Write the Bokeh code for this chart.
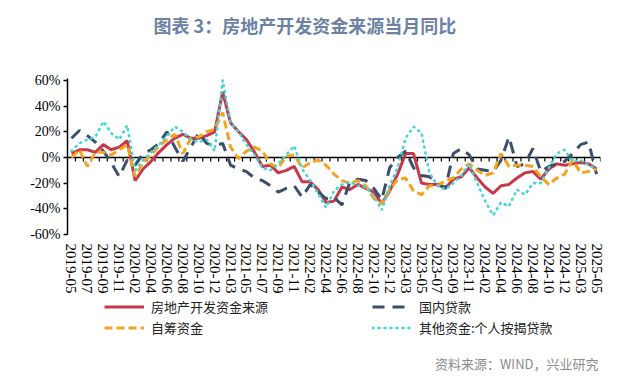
from bokeh.plotting import figure
from bokeh.layouts import column
from bokeh.models import (Range1d, FixedTicker, PrintfTickFormatter, Span, Label,
                          Legend, LegendItem)
from bokeh.embed import file_html
from bokeh.resources import INLINE

months = [
    "2019-05", "2019-06", "2019-07", "2019-08", "2019-09", "2019-10", "2019-11", "2019-12",
    "2020-02", "2020-03", "2020-04", "2020-05", "2020-06", "2020-07", "2020-08", "2020-09",
    "2020-10", "2020-11", "2020-12",
    "2021-02", "2021-03", "2021-04", "2021-05", "2021-06", "2021-07", "2021-08", "2021-09",
    "2021-10", "2021-11", "2021-12",
    "2022-02", "2022-03", "2022-04", "2022-05", "2022-06", "2022-07", "2022-08", "2022-09",
    "2022-10", "2022-11", "2022-12",
    "2023-02", "2023-03", "2023-04", "2023-05", "2023-06", "2023-07", "2023-08", "2023-09",
    "2023-10", "2023-11", "2023-12",
    "2024-02", "2024-03", "2024-04", "2024-05", "2024-06", "2024-07", "2024-08", "2024-09",
    "2024-10", "2024-11", "2024-12",
    "2025-02", "2025-03", "2025-04", "2025-05",
]

# 房地产开发资金来源 (%)
funds_total = [3, 6, 6, 4, 10, 6, 8, 13,
               -18, -9, -3, 4, 10, 15, 18, 15, 15, 17, 20,
               51, 27, 20, 14, 4, -7, -6, -12, -10, -7, -19,
               -19, -25, -35, -34, -23, -25, -21, -24, -27, -36, -26,
               -13, 3, 3, -20, -21, -21, -24, -17, -15, -8, -16,
               -23, -28, -22, -21, -16, -12, -11, -17, -9, -5, -6,
               -5, -4, -5, -9]
# 国内贷款 (%)
domestic_loans = [15, 21, 17, 12, 5, -4, -15, -2,
                  -6, 3, 6, 11, 20, 8, -3, 8, 19, 11, 9,
                  11, -6, -9, -11, -16, -18, -22, -27, -24, -22, -31,
                  -21, -27, -32, -31, -37, -19, -17, -18, -24, -33, -8,
                  0, 5, -8, -14, -15, -20, -24, 3, 7, 2, -9,
                  -10, -11, -2, 16, -7, -5, 7, -11, -7, -5, -3,
                  3, 10, 12, -13]
# 自筹资金 (%)
self_raised = [0, 6, -7, 4, 4, 2, 6, 10,
               -15, -4, 2, 9, 14, 18, 3, 15, 16, 20, 22,
               35, 8, -1, 5, 8, 5, -5, -8, 1, 2, -8,
               -4, -2, -6, -13, -18, -20, -18, -22, -32, -36, -25,
               -17, -16, -26, -29, -22, -22, -18, -16, -9, -5, -10,
               -14, -12, 3, -7, -6, -6, -7, -15, -21, -16, -13,
               -2, -12, -11, -9]
# 其他资金:个人按揭贷款 (%)
mortgage = [5, 11, 14, 16, 28, 19, 14, 25,
            -10, -2, 4, 10, 17, 24, 20, 14, 12, 14, 5,
            60, 27, 20, 10, 2, -8, -10, -5, 2, 9, -9,
            -18, -28, -39, -26, -21, -19, -22, -23, -30, -41, -22,
            -8, 15, 24, 19, -12, -22, -25, -20, -14, -5, -20,
            -34, -45, -35, -38, -25, -29, -20, -20, -8, 3, 6,
            -3, -2, -6, -9]

series_names = ["房地产开发资金来源", "国内贷款", "自筹资金", "其他资金:个人按揭贷款"]
y_ticks = [-60, -40, -20, 0, 20, 40, 60]

styles = [
    dict(line_color="#c9374c", line_width=3),
    dict(line_color="#3b4e6e", line_width=3, line_dash="12 8"),
    dict(line_color="#f5a31f", line_width=3, line_dash="8 4"),
    dict(line_color="#3fd8d4", line_width=2.6, line_dash="1 5", line_cap="round"),
]

W = 640
LEFT, RIGHT = 67, 600   # frame edges shared by all stacked figures
idx = list(range(len(months)))


def blank_fig(h):
    f = figure(width=W, height=h, output_backend="svg", toolbar_location=None,
               x_range=Range1d(LEFT, RIGHT), y_range=Range1d(0, h),
               x_axis_type=None, y_axis_type=None,
               min_border_left=LEFT, min_border_right=W - RIGHT,
               min_border_top=0, min_border_bottom=0)
    f.outline_line_color = None
    f.background_fill_color = "white"
    f.border_fill_color = "white"
    return f


# ---- title strip ----
top = blank_fig(50)
top.add_layout(Label(x=153, y=26, text="图表 3：房地产开发资金来源当月同比",
                     text_align="left", text_baseline="middle",
                     text_font="Noto Sans CJK SC", text_font_style="bold",
                     text_font_size="18px", text_color="#6d82a3"))

# ---- chart ----
p = figure(width=W, height=246, output_backend="svg", toolbar_location=None,
           x_range=Range1d(-0.5, len(months) - 0.5), y_range=Range1d(-60, 61.5),
           min_border_left=LEFT, min_border_right=W - RIGHT, min_border_top=28,
           min_border_bottom=62)
p.outline_line_color = None
p.xgrid.visible = False
p.ygrid.visible = False
p.background_fill_color = "white"
p.border_fill_color = "white"

zero = Span(location=0, dimension="width", line_color="black", line_width=1.5, level="underlay")
p.add_layout(zero)
p.segment(x0=[i + 0.5 for i in idx], y0=0, x1=[i + 0.5 for i in idx], y1=-3.2,
          line_color="black", line_width=1.2, level="underlay")

for vals, st in zip([funds_total, domestic_loans, self_raised, mortgage], styles):
    p.line(idx, vals, **st)

xa = p.xaxis[0]
xa.ticker = FixedTicker(ticks=idx[::2])
xa.major_label_overrides = {i: months[i] for i in idx[::2]}
xa.major_label_orientation = "vertical"
xa.axis_line_color = None
xa.major_tick_line_color = None
xa.minor_tick_line_color = None
xa.major_tick_out = 0
xa.major_label_standoff = 9
xa.major_label_text_font = "Liberation Serif"
xa.major_label_text_font_size = "15px"
xa.major_label_text_color = "black"

ya = p.yaxis[0]
ya.ticker = FixedTicker(ticks=y_ticks)
ya.formatter = PrintfTickFormatter(format="%d%%")
ya.axis_line_color = "black"
ya.axis_line_width = 1.5
ya.major_tick_line_color = "black"
ya.major_tick_line_width = 1.5
ya.major_tick_out = 4
ya.major_tick_in = 0
ya.minor_tick_line_color = None
ya.major_label_standoff = 3
ya.major_label_text_font = "Liberation Serif"
ya.major_label_text_font_size = "14px"
ya.major_label_text_color = "black"

# ---- legend + source strip ----
bot = blank_fig(84)
proxies = [bot.line(x=[float("nan")], y=[float("nan")], **st) for st in styles]
order = [0, 2, 1, 3]
legend = Legend(items=[LegendItem(label=series_names[k], renderers=[proxies[k]]) for k in order],
                location=(104 - LEFT, 42), orientation="vertical", ncols=2)
legend.border_line_color = None
legend.background_fill_alpha = 0
legend.padding = 0
legend.margin = 0
legend.spacing = 0
legend.glyph_width = 40
legend.glyph_height = 21
legend.label_height = 21
legend.label_width = 221
legend.label_standoff = 7
legend.label_text_font = "Noto Sans CJK SC"
legend.label_text_font_size = "13px"
legend.label_text_color = "#222222"
bot.add_layout(legend)

bot.add_layout(Label(x=598, y=17, text="资料来源：WIND，兴业研究", text_align="right",
                     text_baseline="middle", text_font="Noto Sans CJK SC",
                     text_font_size="13px", text_color="#8c8c8c"))

open("out.html", "w").write(file_html(column(top, p, bot, spacing=0), INLINE))
